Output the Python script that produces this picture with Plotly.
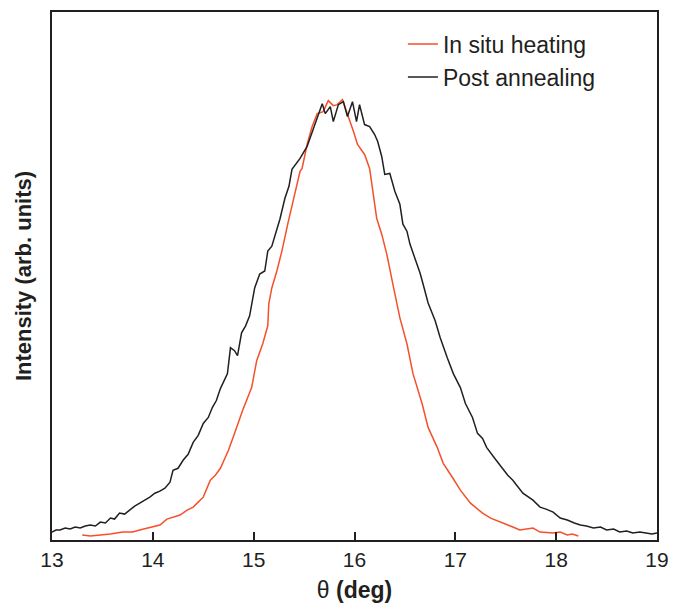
import plotly.graph_objects as go

# Post annealing (black)
theta_post = [13.00, 13.04, 13.08, 13.13, 13.18, 13.23, 13.28, 13.33, 13.38, 13.43, 13.48, 13.53,
              13.58, 13.62, 13.67, 13.72, 13.77, 13.82, 13.87, 13.92, 13.97, 14.02, 14.07, 14.12,
              14.17, 14.20, 14.25, 14.30, 14.35, 14.40, 14.45, 14.50, 14.55, 14.59, 14.63, 14.67,
              14.71, 14.74, 14.77, 14.81, 14.84, 14.88, 14.92, 14.96, 15.01, 15.06, 15.11, 15.14,
              15.18, 15.21, 15.26, 15.31, 15.35, 15.38, 15.42, 15.46, 15.53, 15.59, 15.64, 15.68,
              15.71, 15.76, 15.79, 15.84, 15.89, 15.93, 15.98, 16.02, 16.05, 16.10, 16.15, 16.20,
              16.23, 16.27, 16.30, 16.35, 16.40, 16.45, 16.48, 16.52, 16.55, 16.62, 16.65, 16.68,
              16.73, 16.80, 16.85, 16.92, 16.98, 17.05, 17.10, 17.17, 17.22, 17.27, 17.31, 17.39,
              17.47, 17.52, 17.57, 17.62, 17.67, 17.77, 17.84, 17.90, 17.97, 18.04, 18.11, 18.18,
              18.24, 18.30, 18.37, 18.44, 18.50, 18.57, 18.63, 18.70, 18.76, 18.83, 18.90, 18.95, 19.00]
int_post = [8, 10, 10, 12, 11, 13, 12, 14, 15, 14, 18, 17,
            22, 21, 27, 26, 30, 34, 37, 40, 43, 47, 49, 52,
            58, 70, 72, 80, 86, 98, 105, 117, 123, 133, 140, 152,
            160, 167, 193, 190, 185, 208, 215, 225, 253, 267, 270, 290,
            295, 305, 322, 343, 355, 372, 378, 383, 395, 413, 427, 438,
            428, 435, 420, 437, 440, 425, 440, 420, 437, 417, 415, 407,
            400, 385, 367, 368, 350, 337, 317, 310, 297, 277, 268, 257,
            238, 220, 203, 183, 167, 153, 137, 123, 107, 102, 93, 82,
            72, 65, 60, 53, 47, 40, 33, 31, 28, 22, 20, 17,
            15, 14, 12, 13, 10, 11, 8, 9, 7, 8, 7, 6, 7]

# In situ heating (orange)
theta_insitu = [13.30, 13.38, 13.48, 13.58, 13.70, 13.80, 13.87, 14.00, 14.07, 14.14, 14.20, 14.27,
                14.34, 14.40, 14.45, 14.50, 14.57, 14.62, 14.67, 14.75, 14.81, 14.89, 14.98, 15.03,
                15.09, 15.14, 15.15, 15.18, 15.23, 15.28, 15.34, 15.41, 15.46, 15.48, 15.53, 15.58,
                15.63, 15.69, 15.74, 15.79, 15.83, 15.88, 15.94, 15.99, 16.03, 16.10, 16.15, 16.18,
                16.22, 16.27, 16.32, 16.38, 16.45, 16.52, 16.58, 16.67, 16.73, 16.82, 16.88, 16.97,
                17.05, 17.15, 17.27, 17.35, 17.44, 17.57, 17.64, 17.71, 17.77, 17.84, 17.97, 18.04,
                18.11, 18.16, 18.22]
int_insitu = [5, 4, 5, 6, 8, 8, 10, 13, 15, 21, 23, 25,
              30, 33, 38, 43, 60, 65, 72, 90, 107, 130, 153, 180,
              197, 215, 237, 253, 270, 290, 318, 347, 370, 373, 397, 415,
              428, 430, 441, 436, 437, 442, 425, 410, 397, 387, 373, 353,
              323, 307, 287, 257, 223, 197, 167, 137, 113, 93, 77, 63,
              50, 37, 27, 22, 18, 13, 10, 11, 12, 8, 7, 8,
              5, 6, 4]

x_ticks = [13, 14, 15, 16, 17, 18, 19]

FONT = "Liberation Sans, Arial, Helvetica, sans-serif"
INK = "#231f20"

fig = go.Figure()
fig.add_trace(go.Scatter(x=theta_insitu, y=int_insitu, mode="lines", name="In situ heating",
                         line=dict(color="#f5502a", width=1.5)))
fig.add_trace(go.Scatter(x=theta_post, y=int_post, mode="lines", name="Post annealing",
                         line=dict(color=INK, width=1.5)))

fig.update_layout(
    width=682, height=605,
    margin=dict(l=44, r=33, t=2, b=73),
    paper_bgcolor="white", plot_bgcolor="white",
    font=dict(family=FONT, size=21, color=INK),
    showlegend=True,
    legend=dict(x=0.58, y=0.98, xanchor="left", yanchor="top",
                bgcolor="rgba(0,0,0,0)", font=dict(size=23, color=INK),
                tracegroupgap=0),
)
fig.update_xaxes(
    range=[13, 19], tickvals=x_ticks, ticktext=[str(v) for v in x_ticks],
    ticks="inside", ticklen=8, tickwidth=1.5, tickcolor=INK,
    showline=True, linecolor=INK, linewidth=2, mirror=True,
    showgrid=False, zeroline=False,
    tickfont=dict(size=21, color=INK),
    title=dict(text="θ <b>(deg)</b>", font=dict(size=23, color=INK), standoff=12),
)
fig.update_yaxes(
    range=[0, 530], showticklabels=False, ticks="",
    showline=True, linecolor=INK, linewidth=2, mirror=True,
    showgrid=False, zeroline=False,
    title=dict(text="<b>Intensity (arb. units)</b>", font=dict(size=22, color=INK), standoff=12),
)

fig.write_html("out.html")
